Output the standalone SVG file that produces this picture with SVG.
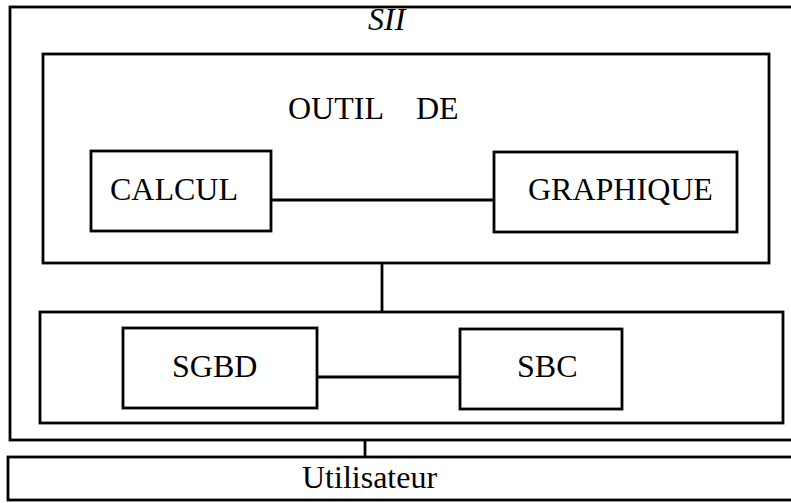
<svg xmlns="http://www.w3.org/2000/svg" width="791" height="503" viewBox="0 0 791 503">
<style>
.box{fill:none;stroke:#000;stroke-width:2.8}
.line{fill:none;stroke:#000;stroke-width:2.8}
text{font-family:"Liberation Serif","Times New Roman",serif;font-size:32px;fill:#000}
.it{font-style:italic}
</style>
<rect x="0" y="0" width="791" height="503" fill="#fff"/>
<g id="sii">
<rect class="box" x="10" y="7" width="800" height="433"/>
<text class="it" x="368" y="30">SII</text>
</g>
<g id="outil">
<rect class="box" x="43" y="54" width="726" height="209"/>
<text x="288" y="119">OUTIL</text>
<text x="416" y="119">DE</text>
</g>
<g id="calcul">
<rect class="box" x="91" y="151" width="180" height="80"/>
<text x="110" y="200">CALCUL</text>
</g>
<g id="graphique">
<rect class="box" x="494" y="152" width="243" height="80"/>
<text x="528" y="200">GRAPHIQUE</text>
</g>
<g id="base">
<rect class="box" x="40" y="312" width="743" height="111"/>
</g>
<g id="sgbd">
<rect class="box" x="123" y="328" width="194" height="80"/>
<text x="172" y="377">SGBD</text>
</g>
<g id="sbc">
<rect class="box" x="460" y="329" width="162" height="80"/>
<text x="517" y="377">SBC</text>
</g>
<g id="utilisateur">
<rect class="box" x="8" y="457" width="800" height="43"/>
<text x="302" y="488">Utilisateur</text>
</g>
<g id="connectors">
<line class="line" x1="271" y1="200" x2="494" y2="200"/>
<line class="line" x1="382" y1="263" x2="382" y2="312"/>
<line class="line" x1="317" y1="377" x2="460" y2="377"/>
<line class="line" x1="365" y1="440" x2="365" y2="457"/>
</g>
</svg>
